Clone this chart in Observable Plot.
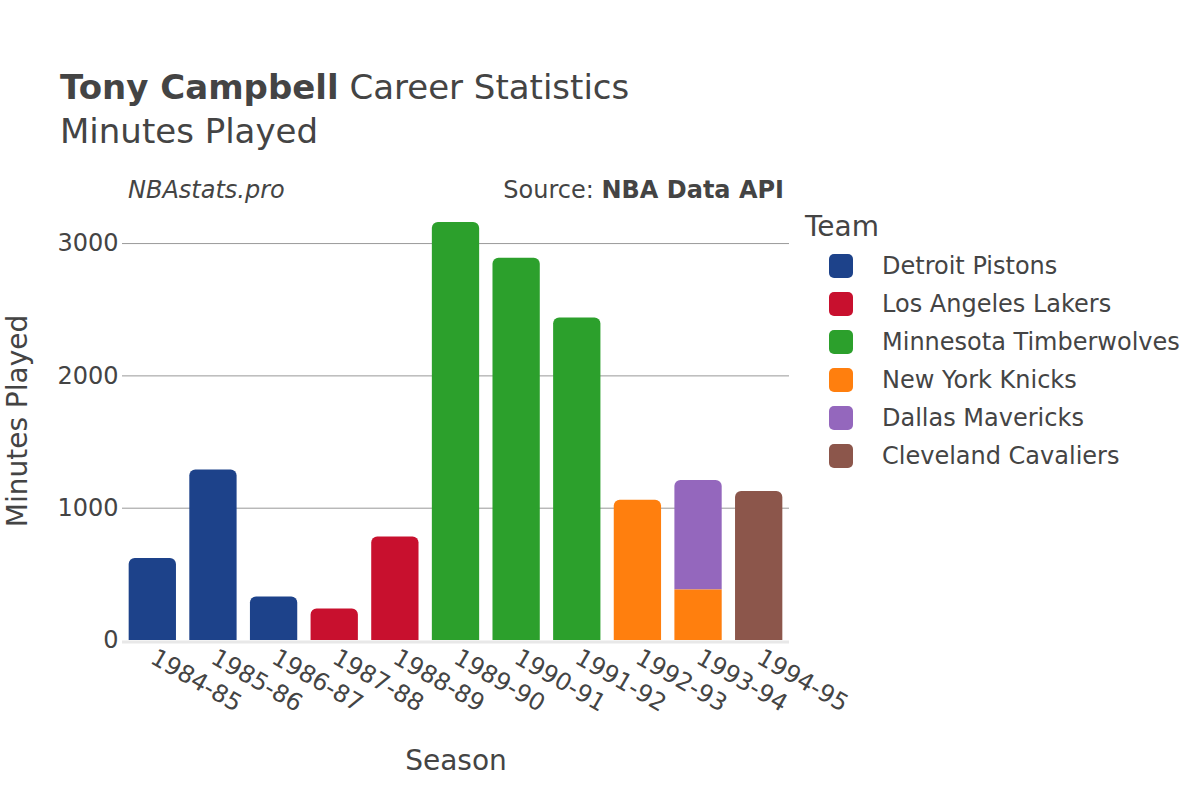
<!DOCTYPE html>
<html>
<head>
<meta charset="utf-8">
<script src="https://cdn.jsdelivr.net/npm/d3@7"></script>
<script src="https://cdn.jsdelivr.net/npm/@observablehq/plot@0.6"></script>
<style>
  html, body { margin: 0; padding: 0; background: #fff; }
  #wrap { position: relative; width: 1200px; height: 800px; font-family: "DejaVu Sans", sans-serif; color: #444; overflow: hidden; }
  #chart { position: absolute; left: 0; top: 0; }
  .abs { position: absolute; white-space: nowrap; line-height: 1; }
  .legend-item { position: absolute; left: 829px; height: 24px; display: flex; align-items: center; }
  .sw { width: 24px; height: 24px; border-radius: 5px; }
  .lt { position: absolute; left: 53px; font-size: 24px; white-space: nowrap; line-height: 1; }
</style>
</head>
<body>
<div id="wrap">
  <div id="chart"></div>
  <div class="abs" id="title" style="left:60px; top:70px; font-size:34px;"><b>Tony Campbell</b> Career Statistics</div>
  <div class="abs" id="subtitle" style="left:60px; top:114px; font-size:34px;">Minutes Played</div>
  <div class="abs" style="left:128px; top:178px; font-size:24px; font-style:italic;">NBAstats.pro</div>
  <div class="abs" style="right:416px; top:178px; font-size:24px;">Source: <b>NBA Data API</b></div>
  <div class="abs" style="left:805px; top:213px; font-size:28px;">Team</div>
  <div id="legend"></div>
</div>
<script>
const seasons = ["1984-85","1985-86","1986-87","1987-88","1988-89","1989-90","1990-91","1991-92","1992-93","1993-94","1994-95"];
const teams = ["Detroit Pistons","Los Angeles Lakers","Minnesota Timberwolves","New York Knicks","Dallas Mavericks","Cleveland Cavaliers"];
const teamColors = ["#1d428a","#c8102e","#2ca02c","#ff7f0e","#9467bd","#8c564b"];

const rowSeason  = ["1984-85","1985-86","1986-87","1987-88","1988-89","1989-90","1990-91","1991-92","1992-93","1993-94","1993-94","1994-95"];
const rowTeam    = ["Detroit Pistons","Detroit Pistons","Detroit Pistons","Los Angeles Lakers","Los Angeles Lakers","Minnesota Timberwolves","Minnesota Timberwolves","Minnesota Timberwolves","New York Knicks","New York Knicks","Dallas Mavericks","Cleveland Cavaliers"];
const rowMinutes = [620, 1288, 328, 238, 782, 3160, 2889, 2437, 1060, 383, 826, 1126];

const yTicks = [0, 1000, 2000, 3000];

// stack segments per season
const base = {};
const rows = rowSeason.map((s, i) => {
  const y1 = base[s] || 0;
  const y2 = y1 + rowMinutes[i];
  base[s] = y2;
  return {season: s, team: rowTeam[i], minutes: rowMinutes[i], y1, y2};
});
const maxTotal = d3.max(Object.values(base));
rows.forEach(r => { r.top = r.y2 === base[r.season]; });

const plot = Plot.plot({
  width: 1200,
  height: 800,
  marginLeft: 122,
  marginRight: 411,
  marginTop: 201,
  marginBottom: 160,
  style: {fontFamily: "DejaVu Sans, sans-serif", color: "#444", background: "transparent", overflow: "visible"},
  x: {domain: seasons, paddingInner: 0.22, paddingOuter: 0.11, round: false, label: null},
  y: {domain: [0, maxTotal * 1.05], label: null},
  color: {domain: teams, range: teamColors},
  marks: [
    Plot.gridY(yTicks.filter(t => t > 0), {stroke: "#999", strokeOpacity: 1, strokeWidth: 1}),
    Plot.ruleY([0], {stroke: "#e8e8e8", strokeWidth: 3, dy: 1.5}),
    Plot.barY(rows.filter(r => !r.top), {x: "season", y1: "y1", y2: "y2", fill: "team"}),
    Plot.barY(rows.filter(r => r.top), {x: "season", y1: "y1", y2: "y2", fill: "team", rx1y1: 6, rx2y1: 6}),
    Plot.axisY({ticks: yTicks, tickFormat: d3.format("d"), tickSize: 0, tickPadding: 4, fontSize: 24, label: "Minutes Played", labelAnchor: "center", labelOffset: 115, labelArrow: "none"}),
    Plot.axisX({tickSize: 0, tickPadding: 15, tickRotate: 30, fontSize: 24, label: "Season", labelAnchor: "center", labelOffset: 129, labelArrow: "none"})
  ]
});
document.getElementById("chart").appendChild(plot);
plot.querySelectorAll("g[aria-label='y-axis label'] text, g[aria-label='x-axis label'] text").forEach(t => t.setAttribute("font-size", 28));

const legend = document.getElementById("legend");
teams.forEach((t, i) => {
  const item = document.createElement("div");
  item.className = "legend-item";
  item.style.top = (254 + i * 38) + "px";
  item.innerHTML = `<div class="sw" style="background:${teamColors[i]}"></div><div class="lt">${t}</div>`;
  legend.appendChild(item);
});
</script>
</body>
</html>
